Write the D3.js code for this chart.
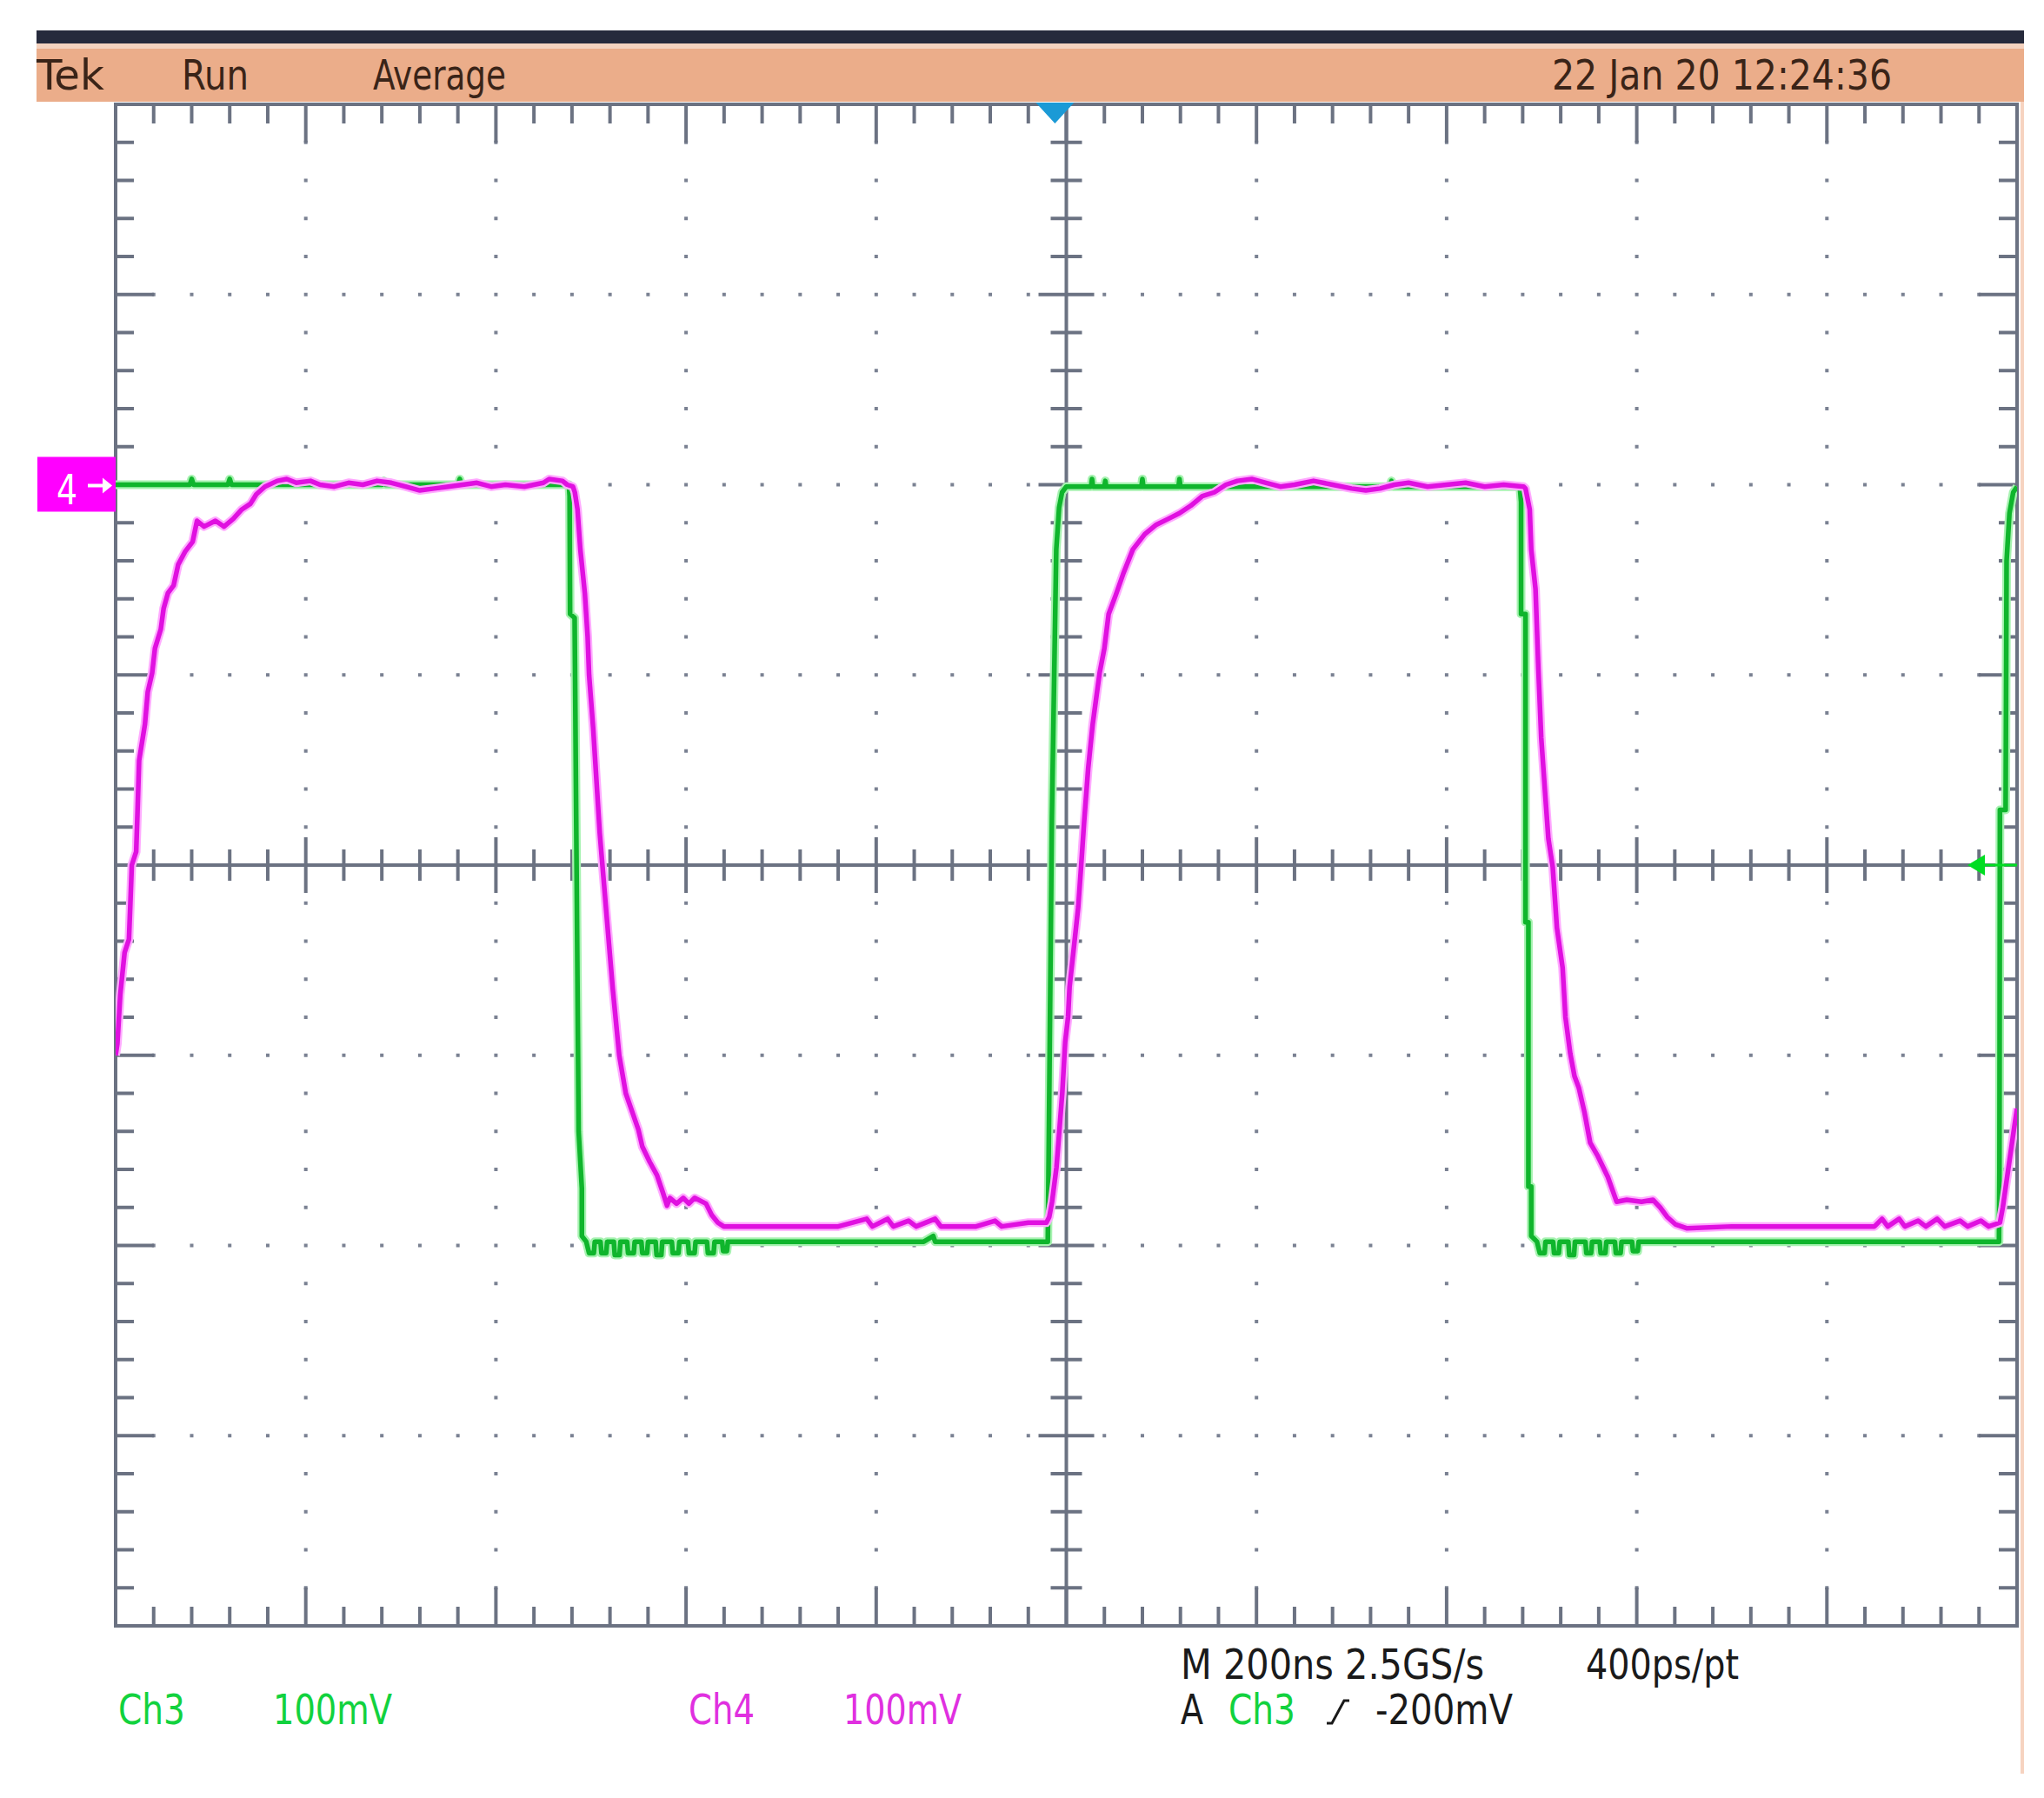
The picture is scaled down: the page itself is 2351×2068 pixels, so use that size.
<!DOCTYPE html>
<html><head><meta charset="utf-8">
<script src="https://cdn.jsdelivr.net/npm/d3@7"></script>
<style>html,body{margin:0;padding:0;background:#fff;} svg{display:block;}</style>
</head><body>
<svg id="c" width="2351" height="2068"></svg>
<script>
// ---------------- data ----------------
const timeDomain = [0, 2000];      // ns  (M 200ns / div, 10 div)
const voltDomain = [-600, 200];    // mV  (100 mV / div, 8 div, ground at +2 div)
const majorTimeStep = 200, minorTimeStep = 40;
const majorVoltStep = 100, minorVoltStep = 20;
const centerTime = 1000, centerVolt = -200;

// Ch3 (green) [time ns, mV]
const ch3 = [
[0,0],[78,0],[80,3],[82,0],[118,0],[120,3],[122,0],[280,0],[282,2],[284,0],[360,0],[362,3],[364,0],[476.7,0],
[477.5,-6],[478,-68],[482.8,-70],[487,-340],[490.4,-370],[490.4,-395],[495,-398],
[498,-404],[503,-404],[504,-398],[510,-398],[511,-404],[516,-404],[517,-398],[524,-398],[525,-405],[530,-405],[531,-398],
[538,-398],[539,-404],[545,-404],[546,-398],[553,-398],[554,-404],[559,-404],[560,-398],[568,-398],[569,-405],[574,-405],
[575,-398],[585,-398],[586,-404],[592,-404],[593,-398],[602,-398],[603,-404],[609,-404],[610,-398],[622,-398],[623,-404],
[629,-404],[630,-398],[638,-398],[639,-403],[643,-403],[644,-398],
[700,-398],[850,-398],[860,-395],[862,-398],[980.5,-398],
[981.8,-333],[984.8,-175],[989.4,-34],[992.4,-12],[995.5,-4],[1000,-1],
[1026,-1],[1027,3],[1028,-1],[1040,-1],[1041,2],[1042,-1],[1079,-1],[1080,3],[1081,-1],[1118,-1],[1119,3],[1120,-1],
[1340,-1],[1342,2],[1344,-1],[1477,-1],
[1478.3,-9],[1478.3,-68],[1483,-68],[1483,-230],[1486,-230],[1486,-369],[1489,-369],[1489,-395],[1495,-398],
[1498,-404],[1503,-404],[1504,-398],[1512,-398],[1513,-404],[1518,-404],[1519,-398],[1528,-398],[1529,-405],[1534,-405],
[1535,-398],[1546,-398],[1547,-404],[1552,-404],[1553,-398],[1561,-398],[1562,-404],[1567,-404],[1568,-398],
[1577,-398],[1578,-404],[1583,-404],[1584,-398],[1595,-398],[1596,-403],[1601,-403],[1602,-398],
[1800,-398],[1981,-398],[1981.5,-360],[1982,-171],[1988,-171],[1989,-40],[1992,-15],[1996,-4],[2000,-1]
];

// Ch4 (magenta) [time ns, mV]
const ch4 = [
[0,-300],[1.8,-294],[4.9,-268],[9.4,-246],[14,-239],[15.5,-220],[17,-200],[21.6,-193],[23,-172],[24.7,-145],
[30.8,-126],[33.8,-109],[38.4,-99],[41.4,-86],[47.5,-76],[50.5,-65],[55,-57],[61,-53],[65.8,-42],[73.3,-35],
[81,-30],[85.6,-19],[93,-22],[105,-19],[114,-22],[123.6,-18],[132.7,-13],[141.8,-10],[148,-5],[157,-1],
[170,2],[180,3],[190,1],[205,2],[215,0],[230,-1],[245,1],[260,0],[275,2],[290,1],[305,-1],[320,-3],[335,-2],
[350,-1],[365,0],[380,1],[395,-1],[410,0],[430,-1],[450,1],[456,3],[470,2],[475,0],[481,-1],
[483,-4],[485.8,-13],[488.8,-34],[493.5,-57],[496.5,-80],[498,-100],[502.3,-128],[509.2,-183],[516,-224],
[522.9,-265],[529.7,-300],[536.6,-320],[549.8,-339],[554,-348],[561.7,-356],[569.4,-363],[575.5,-372],[580,-379],
[583,-375],[590,-378],[597,-375],[603,-378],[609,-375],[621,-378],[627,-384],[633.5,-388],[639.6,-390],
[700,-390],[760,-390],[790,-386],[796,-390],[812,-386],[818,-390],[834,-387],[842,-390],[862,-386],[868,-390],
[905,-390],[925,-387],[932,-390],[960,-388],[979,-388],
[982,-385],[985,-377],[989.6,-359],[992.6,-340],[995.7,-320],[998.8,-293],[1001.8,-280],[1003.4,-264],[1008,-243],
[1012.5,-222],[1015.5,-201],[1018.6,-178],[1023,-149],[1027.7,-126],[1032,-110],[1035,-99],[1040,-86],[1044.5,-68],
[1052,-58],[1059.7,-47],[1070,-34],[1082.5,-26],[1094.7,-21],[1107,-18],[1119,-15],[1131,-11],[1143,-6],[1155.6,-4],[1167.8,0],
[1180,2],[1195,3],[1210,1],[1225,-1],[1240,0],[1260,2],[1280,0],[1300,-2],[1315,-3],[1330,-2],[1345,0],[1360,1],
[1380,-1],[1400,0],[1420,1],[1440,-1],[1460,0],[1481,-1],
[1483,-2],[1487.4,-13],[1489,-34],[1493.5,-55],[1496.5,-97],[1499.5,-133],[1504,-165],[1507,-186],[1511.6,-201],
[1516,-233],[1522,-254],[1525,-280],[1530,-299],[1534.5,-311],[1539,-317],[1545,-330],[1551,-346],[1559,-353],
[1569.6,-364],[1578.8,-377],[1589.5,-376],[1605,-377],[1617,-376],[1624.6,-380],[1632,-385],[1641,-389],[1653,-391],
[1700,-390],[1760,-390],[1850,-390],[1858,-386],[1864,-390],[1876,-386],[1882,-390],[1896,-387],[1904,-390],
[1916,-386],[1924,-390],[1940,-387],[1948,-390],[1962,-387],[1970,-390],[1982,-388],
[1985,-380],[1989,-366],[1993,-352],[1997,-338],[2000,-328]
];

const headerLabels = ["Tek", "Run", "Average"];
const dateLabel = "22 Jan 20 12:24:36";
const channelLabels = ["Ch3", "100mV", "Ch4", "100mV"];
const timebaseLabels = ["M 200ns 2.5GS/s", "400ps/pt"];
const triggerLabels = ["A", "Ch3", "-200mV"];
const ch4MarkerLabel = "4";
const triggerTime = 988;     // ns
const triggerLevel = -200;   // mV (Ch3)
const ch4Ground = 0;         // mV

// ---------------- drawing ----------------
const svg = d3.select("#c");
const L = 133, R = 2320, T = 120, B = 1870;
const x = d3.scaleLinear().domain(timeDomain).range([L, R]);
const y = d3.scaleLinear().domain(voltDomain).range([B, T]);

const GRID = "#6b7282";
const FONT = "'Liberation Sans Narrow','DejaVu Sans Condensed','Liberation Sans',sans-serif";

svg.append("rect").attr("width", 2351).attr("height", 2068).attr("fill", "#fff");

// header bars
svg.append("rect").attr("x", 42).attr("y", 35).attr("width", 2286).attr("height", 15).attr("fill", "#262a3c");
svg.append("rect").attr("x", 42).attr("y", 50).attr("width", 2286).attr("height", 6).attr("fill", "#f4d2bf");
svg.append("rect").attr("x", 42).attr("y", 56).attr("width", 2286).attr("height", 61).attr("fill", "#ebad8a");
// right thin stripe
svg.append("rect").attr("x", 2324).attr("y", 117).attr("width", 4).attr("height", 1923).attr("fill", "#f6d3c0");

const hdr = svg.append("g").attr("font-family", FONT).attr("font-size", 48).attr("fill", "#3a2418");
const hdrPos = [[42, 78], [209, 77], [429, 153]];
headerLabels.forEach((t, i) => {
  hdr.append("text").attr("x", hdrPos[i][0]).attr("y", 103).attr("textLength", hdrPos[i][1])
    .attr("lengthAdjust", "spacingAndGlyphs").text(t);
});
hdr.append("text").attr("x", 1785).attr("y", 103).attr("textLength", 391)
  .attr("lengthAdjust", "spacingAndGlyphs").text(dateLabel);

// graticule
const g = svg.append("g");
const minorT = d3.range(timeDomain[0], timeDomain[1] + 0.1, minorTimeStep);
const minorV = d3.range(voltDomain[0], voltDomain[1] + 0.1, minorVoltStep);
const isMajorT = t => Math.abs(t / majorTimeStep - Math.round(t / majorTimeStep)) < 1e-6;
const isMajorV = v => Math.abs(v / majorVoltStep - Math.round(v / majorVoltStep)) < 1e-6;
const innerT = minorT.filter(t => t > timeDomain[0] && t < timeDomain[1]);
const innerV = minorV.filter(v => v > voltDomain[0] && v < voltDomain[1]);

// dotted major lines
const dots = [];
innerT.filter(isMajorT).filter(t => t !== centerTime).forEach(t => innerV.forEach(v => dots.push([t, v])));
innerV.filter(isMajorV).filter(v => v !== centerVolt).forEach(v => innerT.forEach(t => { if (!(isMajorT(t))) dots.push([t, v]); }));
g.selectAll("rect.dot").data(dots).join("rect").attr("class", "dot")
  .attr("x", d => x(d[0]) - 2).attr("y", d => y(d[1]) - 2).attr("width", 4).attr("height", 4).attr("fill", "#7a8192");

// center crosshair
g.append("line").attr("x1", L).attr("x2", R).attr("y1", y(centerVolt)).attr("y2", y(centerVolt)).attr("stroke", GRID).attr("stroke-width", 4);
g.append("line").attr("x1", x(centerTime)).attr("x2", x(centerTime)).attr("y1", T).attr("y2", B).attr("stroke", GRID).attr("stroke-width", 4);
innerT.filter(t => t !== centerTime).forEach(t => {
  const h = isMajorT(t) ? 32 : 18;
  g.append("line").attr("x1", x(t)).attr("x2", x(t)).attr("y1", y(centerVolt) - h).attr("y2", y(centerVolt) + h).attr("stroke", GRID).attr("stroke-width", 4);
});
innerV.filter(v => v !== centerVolt).forEach(v => {
  const h = isMajorV(v) ? 32 : 18;
  g.append("line").attr("y1", y(v)).attr("y2", y(v)).attr("x1", x(centerTime) - h).attr("x2", x(centerTime) + h).attr("stroke", GRID).attr("stroke-width", 4);
});

// edge ticks
innerT.forEach(t => {
  const h = isMajorT(t) ? 44 : 22;
  g.append("line").attr("x1", x(t)).attr("x2", x(t)).attr("y1", T).attr("y2", T + h).attr("stroke", GRID).attr("stroke-width", 4);
  g.append("line").attr("x1", x(t)).attr("x2", x(t)).attr("y1", B).attr("y2", B - h).attr("stroke", GRID).attr("stroke-width", 4);
});
innerV.forEach(v => {
  const h = isMajorV(v) ? 44 : 21;
  g.append("line").attr("y1", y(v)).attr("y2", y(v)).attr("x1", L).attr("x2", L + h).attr("stroke", GRID).attr("stroke-width", 4);
  g.append("line").attr("y1", y(v)).attr("y2", y(v)).attr("x1", R).attr("x2", R - h).attr("stroke", GRID).attr("stroke-width", 4);
});
// border
g.append("rect").attr("x", L).attr("y", T).attr("width", R - L).attr("height", B - T)
  .attr("fill", "none").attr("stroke", GRID).attr("stroke-width", 4);

// traces
svg.append("clipPath").attr("id", "plotclip").append("rect").attr("x", L).attr("y", T).attr("width", R - L).attr("height", B - T);
const line = d3.line().x(d => x(d[0])).y(d => y(d[1]));
const tr = svg.append("g").attr("clip-path", "url(#plotclip)").attr("fill", "none").attr("stroke-linejoin", "round");
tr.append("path").datum(ch3).attr("d", line).attr("stroke", "#a6f2b0").attr("stroke-width", 10);
tr.append("path").datum(ch3).attr("d", line).attr("stroke", "#0fb52c").attr("stroke-width", 5.5);
tr.append("path").datum(ch4).attr("d", line).attr("stroke", "#ffaaff").attr("stroke-width", 10);
tr.append("path").datum(ch4).attr("d", line).attr("stroke", "#e010e0").attr("stroke-width", 5.5);

// trigger position marker (top)
const tx = x(triggerTime);
svg.append("path").attr("d", `M${tx - 22},${T - 2}L${tx + 22},${T - 2}L${tx},${T + 22}Z`).attr("fill", "#1b9ad6");

// trigger level marker (right)
const ty = y(triggerLevel);
svg.append("line").attr("x1", R - 38).attr("x2", R).attr("y1", ty).attr("y2", ty).attr("stroke", "#00dd22").attr("stroke-width", 3);
svg.append("path").attr("d", `M${R - 57},${ty}L${R - 37},${ty - 12}L${R - 37},${ty + 12}Z`).attr("fill", "#00dd22");

// Ch4 ground marker (left)
const gy = y(ch4Ground);
svg.append("rect").attr("x", 43).attr("y", gy - 32).attr("width", L - 43).attr("height", 63).attr("fill", "#ff00ff");
svg.append("text").attr("x", 65).attr("y", gy + 22).attr("font-family", FONT).attr("font-size", 48)
  .attr("fill", "#fff").attr("textLength", 24).attr("lengthAdjust", "spacingAndGlyphs").text(ch4MarkerLabel);
svg.append("path").attr("d", `M101,${gy + 1}L122,${gy + 1}`).attr("stroke", "#fff").attr("stroke-width", 4);
svg.append("path").attr("d", `M129,${gy + 1}L118,${gy - 8}L118,${gy + 10}Z`).attr("fill", "#fff");

// bottom readouts
const bt = svg.append("g").attr("font-family", FONT).attr("font-size", 48);
const chPos = [[136, 77, "#12d23e"], [314, 137, "#12d23e"], [792, 76, "#e030e0"], [970, 136, "#e030e0"]];
channelLabels.forEach((t, i) => {
  bt.append("text").attr("x", chPos[i][0]).attr("y", 1983).attr("textLength", chPos[i][1])
    .attr("lengthAdjust", "spacingAndGlyphs").attr("fill", chPos[i][2]).text(t);
});
const tbPos = [[1358, 349], [1824, 176]];
timebaseLabels.forEach((t, i) => {
  bt.append("text").attr("x", tbPos[i][0]).attr("y", 1931).attr("textLength", tbPos[i][1])
    .attr("lengthAdjust", "spacingAndGlyphs").attr("fill", "#1a1a1a").text(t);
});
const trPos = [[1358, 26, "#1a1a1a"], [1413, 77, "#12d23e"], [1582, 158, "#1a1a1a"]];
triggerLabels.forEach((t, i) => {
  bt.append("text").attr("x", trPos[i][0]).attr("y", 1983).attr("textLength", trPos[i][1])
    .attr("lengthAdjust", "spacingAndGlyphs").attr("fill", trPos[i][2]).text(t);
});
// rising-edge slope symbol
svg.append("path").attr("d", "M1526,1982L1532,1982L1546,1956L1552,1956").attr("fill", "none")
  .attr("stroke", "#1a1a1a").attr("stroke-width", 3);
</script>
</body></html>
